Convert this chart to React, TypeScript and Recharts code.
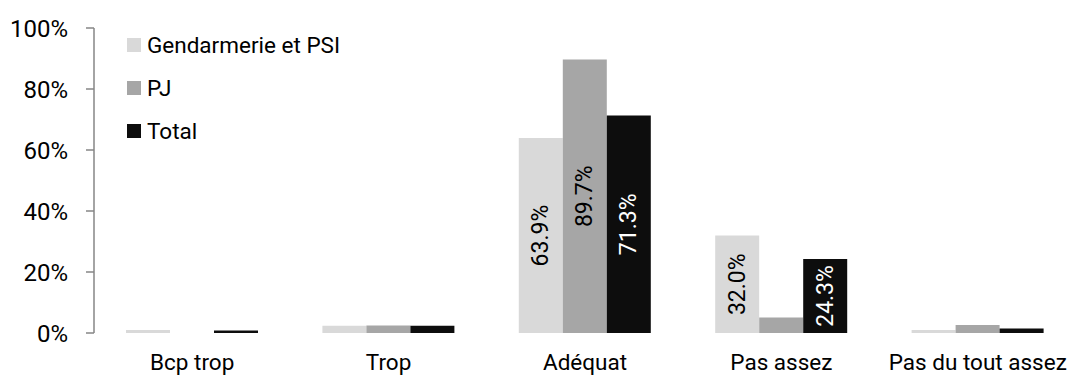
import { BarChart, Bar, XAxis, YAxis, Legend, LabelList } from "recharts";

const categories = ["Bcp trop", "Trop", "Adéquat", "Pas assez", "Pas du tout assez"];
const gendarmerie = [1.0, 2.4, 63.9, 32.0, 1.0];
const pj = [0, 2.5, 89.7, 5.1, 2.6];
const total = [0.8, 2.4, 71.3, 24.3, 1.5];
const yTicks = [0, 20, 40, 60, 80, 100];

const series = [
  { key: "gendarmerie", name: "Gendarmerie et PSI", color: "#d9d9d9", text: "#000" },
  { key: "pj", name: "PJ", color: "#a6a6a6", text: "#000" },
  { key: "total", name: "Total", color: "#0d0d0d", text: "#fff" },
];

const data = categories.map((c, i) => ({
  cat: c,
  gendarmerie: gendarmerie[i],
  pj: pj[i],
  total: total[i],
}));

const FONT = "Roboto, 'Noto Sans', sans-serif";

function makeLabel(fill: string) {
  return (props: any) => {
    const { x, y, width, height, value } = props;
    if (value < 10) return null;
    const cx = x + width / 2;
    const cy = y + height / 2;
    return (
      <text
        x={cx}
        y={cy}
        transform={`rotate(-90 ${cx} ${cy})`}
        textAnchor="middle"
        dominantBaseline="central"
        fill={fill}
        fontSize={23}
        fontFamily={FONT}
      >
        {value.toFixed(1)}%
      </text>
    );
  };
}

function LegendBox() {
  return (
    <div style={{ fontFamily: FONT, fontSize: 22.5, color: "#000" }}>
      {series.map((s) => (
        <div key={s.key} style={{ display: "flex", alignItems: "center", height: 43 }}>
          <span style={{ width: 14, height: 14, background: s.color, marginRight: 6, display: "inline-block" }} />
          <span>{s.name}</span>
        </div>
      ))}
    </div>
  );
}

export default function App() {
  return (
    <div style={{ width: 1068, height: 379, overflow: "hidden", background: "#fff" }}>
      <style>{"body{margin:0}"}</style>
      <BarChart
        width={1076}
        height={379}
        data={data}
        margin={{ top: 28, right: 0, left: 0, bottom: 16 }}
        barCategoryGap={32}
        barGap={0}
      >
        <XAxis
          dataKey="cat"
          axisLine={false}
          tickLine={false}
          tickSize={8}
          tickMargin={13}
          tick={{ fill: "#000", fontSize: 22.5, fontFamily: FONT }}
          interval={0}
        />
        <YAxis
          domain={[0, 100]}
          ticks={yTicks}
          width={94}
          tickSize={8}
          tickMargin={18}
          stroke="#868686"
          strokeWidth={1.5}
          tickFormatter={(v) => `${v}%`}
          tick={{ fill: "#000", fontSize: 24, fontFamily: FONT }}
        />
        <Legend
          layout="vertical"
          align="center"
          verticalAlign="middle"
          content={() => <LegendBox />}
          wrapperStyle={{ top: 23, left: 127, width: "auto" }}
        />
        {series.map((s) => (
          <Bar key={s.key} dataKey={s.key} name={s.name} fill={s.color} isAnimationActive={false}>
            <LabelList dataKey={s.key} content={makeLabel(s.text)} />
          </Bar>
        ))}
      </BarChart>
    </div>
  );
}
